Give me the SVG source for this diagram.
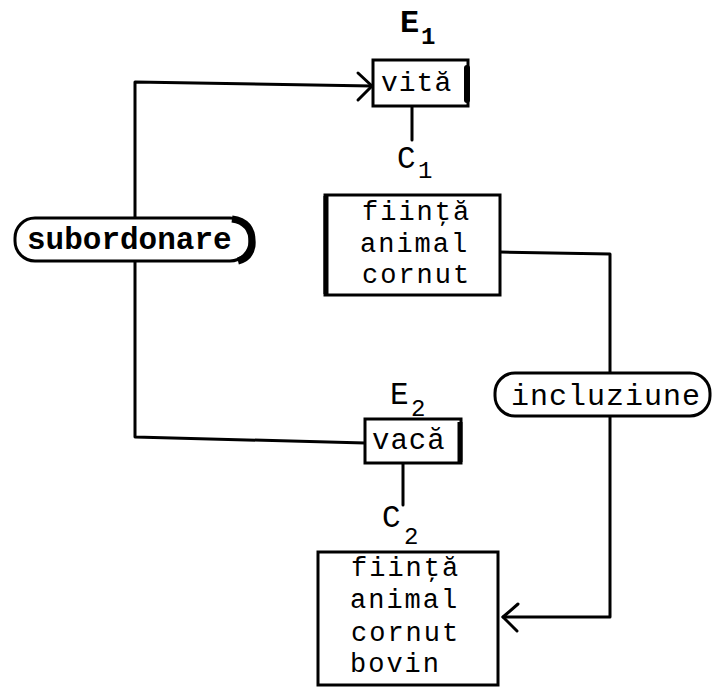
<svg xmlns="http://www.w3.org/2000/svg" width="712" height="692" viewBox="0 0 712 692">
<style>
.box{fill:#fff;stroke:#000;stroke-width:3}
.pill{fill:#fff;stroke:#000;stroke-width:3}
.ln{fill:none;stroke:#000;stroke-width:3;stroke-linejoin:round;stroke-linecap:round}
.t{font-family:"Liberation Mono","DejaVu Sans Mono",monospace;fill:#000}
.b{font-weight:bold}
.bt{font-size:27px;letter-spacing:2px}
</style>
<rect width="712" height="692" fill="#fff"/>
<g id="connectors">
<polyline class="ln" points="365,443 135,437 135,262"/>
<polyline class="ln" points="135,217 135,82 372,86"/>
<polyline class="ln" points="358,73 372,86 358,100"/>
<line class="ln" x1="412" y1="107" x2="412" y2="140"/>
<line class="ln" x1="403" y1="464" x2="403" y2="505"/>
<polyline class="ln" points="500,252 610,254 610,373"/>
<polyline class="ln" points="610,415 610,617 503,617"/>
<polyline class="ln" points="518,604 503,617 517,631"/>
</g>
<g id="E1">
<text class="t b" x="400" y="32" font-size="32">E<tspan x="421" y="44" font-size="24">1</tspan></text>
</g>
<g id="vita">
<rect class="box" x="373" y="60" width="95" height="46"/>
<line x1="467" y1="68" x2="467" y2="100" stroke="#000" stroke-width="6" stroke-linecap="round"/>
<text class="t" x="381" y="91" font-size="28" letter-spacing="1">vită</text>
</g>
<g id="C1">
<text class="t" x="397" y="168" font-size="31">C<tspan x="418" y="178" font-size="24">1</tspan></text>
</g>
<g id="box1">
<rect class="box" x="325" y="195" width="175" height="100"/>
<line x1="326" y1="196" x2="326" y2="294" stroke="#000" stroke-width="5"/>
<text class="t bt"><tspan x="362" y="220">fiinţă</tspan><tspan x="360" y="252">animal</tspan><tspan x="362" y="283">cornut</tspan></text>
</g>
<g id="subordonare">
<rect class="pill" x="15" y="218" width="235" height="43" rx="20"/>
<path d="M232,219 Q254,222 252,246 Q250,258 238,261" fill="none" stroke="#000" stroke-width="7"/>
<text class="t b" x="27" y="249" font-size="31">subordonare</text>
</g>
<g id="E2">
<text class="t" x="390" y="404" font-size="31">E<tspan x="411" y="416" font-size="24">2</tspan></text>
</g>
<g id="vaca">
<rect class="box" x="365" y="419" width="96" height="44"/>
<line x1="460" y1="422" x2="460" y2="462" stroke="#000" stroke-width="5"/>
<text class="t" x="372" y="449" font-size="29" letter-spacing="1">vacă</text>
</g>
<g id="C2">
<text class="t" x="382" y="527" font-size="31">C<tspan x="404" y="544" font-size="24">2</tspan></text>
</g>
<g id="incluziune">
<rect class="pill" x="495" y="373" width="215" height="43" rx="20"/>
<text class="t" x="511" y="405" font-size="30" letter-spacing="1">incluziune</text>
</g>
<g id="box2">
<rect class="box" x="318" y="552" width="180" height="133"/>
<text class="t bt"><tspan x="351" y="576">fiinţă</tspan><tspan x="350" y="608">animal</tspan><tspan x="351" y="641">cornut</tspan><tspan x="350" y="672">bovin</tspan></text>
</g>
</svg>
